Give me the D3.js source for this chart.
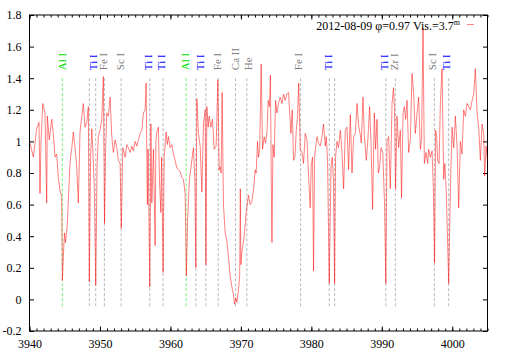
<!DOCTYPE html>
<html>
<head>
<meta charset="utf-8">
<script src="https://cdn.jsdelivr.net/npm/d3@7"></script>
<style>
  body { margin: 0; background: #fff; }
  svg text { font-family: "Liberation Serif", "DejaVu Serif", serif !important; }
</style>
</head>
<body>
<div id="chart"></div>
<script>
// spectrum (wavelength in A, normalised flux)
const wavelength = [
  3940.07, 3940.54, 3941.02, 3941.35, 3941.49, 3941.63, 3941.88, 3942.20, 3942.44, 3942.53,
  3942.81, 3943.15, 3943.38, 3943.62, 3943.86, 3944.09, 3944.33, 3944.57, 3944.67, 3944.83,
  3944.97, 3945.11, 3945.33, 3945.51, 3945.68, 3945.82, 3945.99, 3946.22, 3946.46, 3946.70,
  3946.93, 3947.17, 3947.42, 3947.64, 3947.88, 3948.13, 3948.35, 3948.49, 3948.67, 3948.84,
  3948.98, 3949.20, 3949.40, 3949.59, 3949.77, 3950.01, 3950.26, 3950.48, 3950.65, 3950.80,
  3950.97, 3951.19, 3951.44, 3951.68, 3951.90, 3952.15, 3952.39, 3952.61, 3952.86, 3953.03,
  3953.24, 3953.57, 3953.81, 3954.03, 3954.28, 3954.52, 3954.74, 3954.99, 3955.23, 3955.46,
  3955.70, 3955.94, 3956.17, 3956.41, 3956.55, 3956.73, 3956.83, 3957.07, 3957.23, 3957.36,
  3957.59, 3957.83, 3957.94, 3958.07, 3958.30, 3958.44, 3958.64, 3958.75, 3958.96, 3959.11,
  3959.39, 3959.56, 3959.72, 3959.96, 3960.20, 3960.43, 3960.67, 3960.91, 3961.14, 3961.38,
  3961.62, 3961.85, 3962.09, 3962.26, 3962.44, 3962.70, 3963.04, 3963.27, 3963.47, 3963.61,
  3963.75, 3963.98, 3964.22, 3964.46, 3964.69, 3964.93, 3965.04, 3965.17, 3965.36, 3965.50,
  3965.74, 3965.97, 3966.21, 3966.49, 3966.73, 3966.92, 3967.06, 3967.20, 3967.34, 3967.53,
  3967.77, 3968.01, 3968.27, 3968.48, 3968.72, 3968.95, 3969.09, 3969.29, 3969.43, 3969.66,
  3969.83, 3969.92, 3970.00, 3970.14, 3970.28, 3970.47, 3970.75, 3971.08, 3971.32, 3971.56,
  3971.79, 3972.03, 3972.17, 3972.36, 3972.50, 3972.67, 3972.88, 3973.07, 3973.31, 3973.50,
  3973.69, 3973.88, 3974.06, 3974.19, 3974.31, 3974.41, 3974.55, 3974.73, 3974.92, 3975.11,
  3975.34, 3975.58, 3975.83, 3976.05, 3976.29, 3976.54, 3976.76, 3976.90, 3977.10, 3977.29,
  3977.47, 3977.67, 3977.86, 3978.04, 3978.21, 3978.42, 3978.67, 3978.89, 3979.13, 3979.38,
  3979.60, 3979.84, 3979.99, 3980.17, 3980.31, 3980.46, 3980.63, 3980.80, 3981.02, 3981.27,
  3981.51, 3981.73, 3981.98, 3982.12, 3982.30, 3982.54, 3982.79, 3982.97, 3983.14, 3983.30,
  3983.44, 3983.64, 3983.86, 3984.11, 3984.35, 3984.58, 3984.82, 3985.06, 3985.29, 3985.53,
  3985.77, 3986.00, 3986.24, 3986.48, 3986.71, 3986.95, 3987.09, 3987.33, 3987.52, 3987.80,
  3988.01, 3988.27, 3988.47, 3988.69, 3988.94, 3989.12, 3989.32, 3989.50, 3989.69, 3989.89,
  3990.14, 3990.39, 3990.57, 3990.74, 3990.97, 3991.21, 3991.45, 3991.66, 3991.81, 3991.95,
  3992.16, 3992.39, 3992.63, 3992.80, 3993.01, 3993.20, 3993.38, 3993.58, 3993.81, 3994.05,
  3994.29, 3994.52, 3994.76, 3995.00, 3995.23, 3995.47, 3995.64, 3995.85, 3996.04, 3996.28,
  3996.51, 3996.65, 3996.89, 3997.13, 3997.32, 3997.49, 3997.64, 3997.79, 3997.93, 3998.13,
  3998.31, 3998.55, 3998.78, 3998.95, 3999.16, 3999.49, 3999.73, 3999.97, 4000.20, 4000.44,
  4000.68, 4000.91, 4001.15, 4001.39, 4001.62, 4001.86, 4002.10, 4002.33, 4002.57, 4002.82,
  4003.04, 4003.28, 4003.52, 4003.75, 4003.99, 4004.23, 4004.46, 4004.60, 4004.80, 4004.99
];
const flux = [
  0.99, 0.90, 1.08, 1.12, 0.67, 1.00, 1.24, 1.18, 0.61, 1.16,
  1.01, 1.14, 1.05, 0.90, 0.92, 0.77, 0.69, 0.65, 0.12, 0.30,
  0.42, 0.36, 0.45, 0.62, 0.80, 0.90, 0.95, 1.06, 0.96, 0.84,
  0.61, 1.06, 1.16, 1.24, 1.09, 1.12, 1.22, 0.11, 0.90, 1.08,
  0.96, 0.70, 0.09, 0.85, 1.03, 1.07, 1.14, 1.41, 0.48, 0.95,
  1.18, 1.16, 1.28, 1.03, 0.93, 1.01, 0.96, 0.88, 0.86, 0.45,
  0.96, 0.90, 0.98, 0.96, 0.93, 0.97, 0.94, 1.00, 0.97, 1.01,
  1.05, 1.07, 1.18, 1.20, 1.37, 0.60, 0.95, 0.08, 1.11, 0.61,
  0.95, 0.34, 1.00, 1.06, 1.09, 0.76, 0.55, 0.90, 0.17, 0.90,
  1.06, 0.98, 1.03, 0.96, 0.98, 0.92, 0.88, 0.83, 0.82, 0.81,
  0.77, 0.76, 0.67, 0.15, 0.50, 0.76, 0.88, 0.96, 0.75, 0.20,
  1.27, 1.05, 0.97, 0.68, 1.11, 1.20, 0.22, 1.22, 1.09, 1.16,
  1.09, 1.14, 0.95, 0.97, 1.39, 0.82, 0.84, 0.80, 1.31, 0.60,
  0.42, 0.37, 0.25, 0.15, 0.08, 0.03, -0.03, 0.01, -0.02, 0.06,
  0.15, 0.70, 0.22, 0.30, 0.34, 0.40, 0.55, 0.66, 0.60, 0.62,
  0.69, 0.82, 0.80, 1.00, 0.90, 0.95, 1.49, 0.95, 1.03, 0.99,
  1.05, 1.26, 1.22, 1.42, 0.76, 0.36, 0.98, 0.90, 1.26, 1.18,
  1.24, 1.28, 1.24, 1.30, 1.26, 1.30, 1.31, 1.20, 1.05, 1.20,
  0.88, 0.90, 1.07, 1.16, 1.37, 0.95, 0.93, 0.86, 1.05, 1.01,
  0.78, 0.58, 0.85, 0.90, 0.18, 0.90, 0.97, 1.03, 0.99, 0.97,
  1.03, 1.11, 0.97, 1.03, 0.88, 0.10, 0.84, 0.90, 0.75, 0.10,
  0.90, 1.00, 0.96, 1.07, 0.93, 0.70, 1.07, 1.09, 0.82, 1.17,
  0.80, 1.03, 1.05, 1.24, 1.10, 1.04, 0.99, 1.28, 1.04, 0.88,
  1.00, 1.22, 0.99, 0.57, 1.18, 0.95, 1.14, 0.80, 0.84, 0.96,
  0.93, 0.60, 0.10, 1.00, 1.03, 0.70, 1.24, 1.34, 1.20, 0.70,
  1.16, 0.96, 1.07, 0.64, 1.18, 1.22, 1.14, 1.26, 0.93, 1.01,
  1.43, 1.30, 1.05, 1.18, 1.28, 0.95, 1.01, 1.72, 0.86, 0.93,
  0.86, 0.95, 0.90, 0.94, 0.70, 0.23, 1.07, 1.03, 0.88, 0.86,
  1.24, 1.46, 0.76, 0.86, 0.67, 0.10, 0.69, 1.09, 0.96, 1.16,
  0.97, 0.58, 1.00, 0.92, 1.20, 1.16, 1.24, 1.22, 1.20, 1.26,
  1.30, 1.46, 1.18, 1.09, 0.88, 1.11, 1.05, 0.78, 0.97, 0.88
];

// marked lines (dashed verticals)
const lineWl = [3944.66, 3948.49, 3949.40, 3950.63, 3953.00, 3957.07, 3958.96, 3962.23, 3963.61, 3965.03,
                3966.78, 3969.23, 3970.85, 3978.47, 3982.54, 3983.30, 3990.57, 3991.92, 3997.46, 3999.49];
const lineKind = ["Al", "x", "x", "x", "x", "x", "x", "Al", "x", "x",
                  "x", "x", "x", "x", "x", "x", "x", "x", "x", "x"];

// line identifications
const labelWl = [3944.57, 3949.06, 3950.44, 3952.86, 3956.79, 3958.68, 3962.09, 3964.22, 3966.59,
                 3969.19, 3971.00, 3978.18, 3982.44, 3990.35, 3991.77, 3997.13, 3999.16];
const labelText = ["Al I", "Ti I", "Fe I", "Sc I", "Ti I", "Ti I", "Al I", "Ti I", "Fe I",
                   "Ca II", "He", "Fe I", "Ti I", "Ti I", "Zr I", "Sc I", "Ti I"];

const xTicks = [3940, 3950, 3960, 3970, 3980, 3990, 4000];
const yTicks = [-0.2, 0, 0.2, 0.4, 0.6, 0.8, 1, 1.2, 1.4, 1.6, 1.8];

const labelColor = {"Al I": "#00e000", "Ti I": "#0000ff"};
const other = "#808080";

let W = 509, H = 356;
let margin = {top: 15, right: 21.5, bottom: 25, left: 29.5};
let w = W - margin.left - margin.right;
let h = H - margin.top - margin.bottom;

let svg = d3.select("#chart").append("svg")
    .attr("width", W)
    .attr("height", H);

let g = svg.append("g")
    .attr("transform", `translate(${margin.left},${margin.top})`);

let x = d3.scaleLinear().domain([3940, 4005]).range([0, w]);
let y = d3.scaleLinear().domain([-0.2, 1.8]).range([h, 0]);

let fmt = (d) => d === 0 ? "0" : String(+d.toFixed(1));

//minor ticks every 1 A, bottom and top
let minor = d3.range(3940, 4006);
g.append("g").attr("transform", `translate(0,${h})`)
    .call(d3.axisBottom(x).tickValues(minor).tickSize(-2.5).tickFormat(""));
g.append("g")
    .call(d3.axisTop(x).tickValues(minor).tickSize(-2.5).tickFormat(""));

//major ticks
g.append("g").attr("class", "xaxis").attr("transform", `translate(0,${h})`)
    .call(d3.axisBottom(x).tickValues(xTicks).tickSize(-4.5).tickPadding(8).tickFormat(d3.format("d")));
g.append("g")
    .call(d3.axisTop(x).tickValues(xTicks).tickSize(-4.5).tickFormat(""));
g.append("g").attr("class", "yaxis")
    .call(d3.axisLeft(y).tickValues(yTicks).tickSize(-4.5).tickPadding(8).tickFormat(fmt));
g.append("g").attr("transform", `translate(${w},0)`)
    .call(d3.axisRight(y).tickValues(yTicks).tickSize(-4.5).tickFormat(""));

g.selectAll(".domain").remove();
g.selectAll(".tick text").attr("fill", "#000").style("font-size", "12px");

//frame
g.append("rect")
    .attr("width", w).attr("height", h)
    .attr("fill", "none").attr("stroke", "#000").attr("stroke-width", 1);

//dashed line markers
g.selectAll(".marker")
    .data(lineWl)
    .enter()
    .append("line")
    .attr("x1", (d) => x(d)).attr("x2", (d) => x(d))
    .attr("y1", y(1.4)).attr("y2", y(-0.05))
    .attr("stroke", (d, i) => lineKind[i] === "Al" ? "#66ee66" : "#b0b0b0")
    .attr("stroke-width", 0.9)
    .attr("stroke-dasharray", "3,2");

//spectrum
g.append("clipPath").attr("id", "clip")
    .append("rect").attr("width", w).attr("height", h);

let pts = wavelength.map((d, i) => [d, flux[i]]);
g.append("path")
    .datum(pts)
    .attr("clip-path", "url(#clip)")
    .attr("fill", "none")
    .attr("stroke", "#ff0000")
    .attr("stroke-width", 0.5)
    .attr("d", d3.line().x((d) => x(d[0])).y((d) => y(d[1])));

//line identifications, rotated
g.selectAll(".ident")
    .data(labelWl)
    .enter()
    .append("text")
    .attr("transform", (d) => `translate(${x(d)},${y(1.4) - 8}) rotate(-90)`)
    .attr("dy", "0.35em")
    .style("font-size", "11px")
    .attr("fill", (d, i) => labelColor[labelText[i]] || other)
    .text((d, i) => labelText[i]);

//key
let key = svg.append("text")
    .attr("x", 460).attr("y", 29.5)
    .attr("text-anchor", "end")
    .style("font-size", "12px")
    .attr("fill", "#000");
key.append("tspan").text("2012-08-09 φ=0.97 Vis.=3.7");
key.append("tspan").attr("dy", -5).style("font-size", "8px").text("m");

svg.append("line")
    .attr("x1", 467).attr("x2", 474)
    .attr("y1", 24.5).attr("y2", 24.5)
    .attr("stroke", "#ff8080").attr("stroke-width", 1);
</script>
</body>
</html>
